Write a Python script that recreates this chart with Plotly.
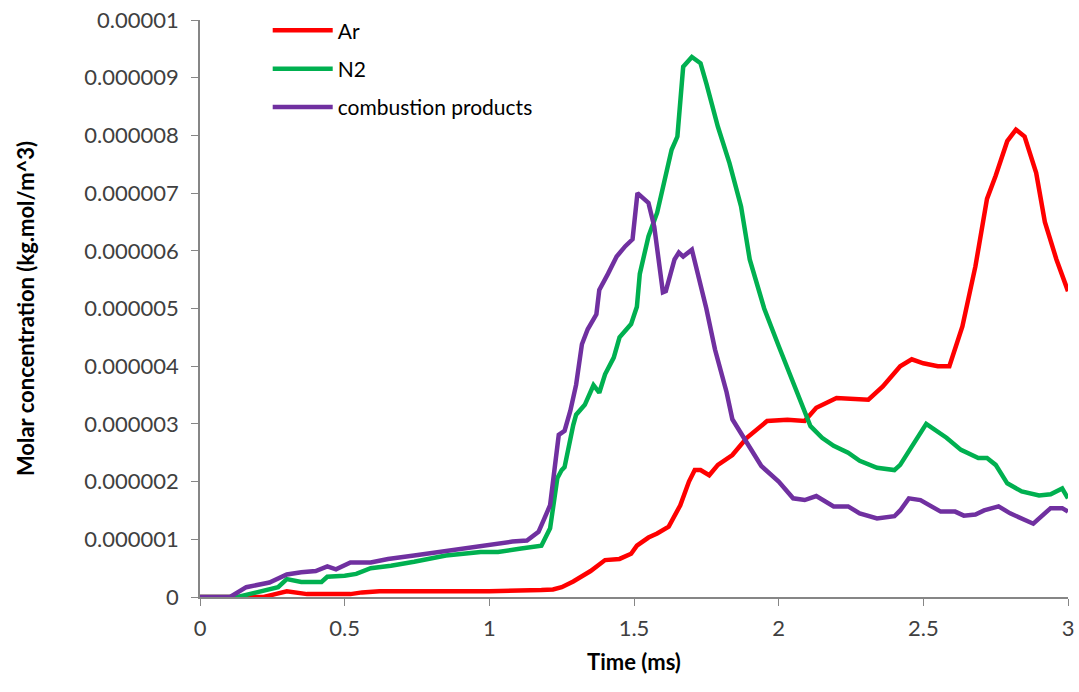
import plotly.graph_objects as go

UNIT = 1e-6  # values below are in units of 1e-6 kg.mol/m^3

# Ar
t_ar = [0, 0.22, 0.26, 0.30, 0.37, 0.52, 0.56, 0.62, 0.8, 1.0, 1.18, 1.22, 1.25, 1.29, 1.35,
        1.40, 1.45, 1.49, 1.51, 1.55, 1.58, 1.62, 1.66, 1.69, 1.71, 1.73, 1.76, 1.79, 1.84,
        1.89, 1.96, 2.03, 2.09, 2.13, 2.20, 2.31, 2.36, 2.42, 2.46, 2.50, 2.55, 2.59, 2.635,
        2.68, 2.72, 2.75, 2.79, 2.82, 2.85, 2.89, 2.92, 2.96, 3.0]
c_ar = [0, 0, 0.05, 0.1, 0.05, 0.05, 0.08, 0.1, 0.1, 0.1, 0.12, 0.13, 0.17, 0.27, 0.45,
        0.64, 0.66, 0.75, 0.89, 1.03, 1.1, 1.22, 1.59, 2.0, 2.2, 2.2, 2.11, 2.29, 2.46,
        2.76, 3.05, 3.07, 3.05, 3.28, 3.45, 3.42, 3.65, 4.0, 4.12, 4.05, 4.0, 4.0, 4.69,
        5.73, 6.9, 7.3, 7.9, 8.1, 7.98, 7.35, 6.5, 5.85, 5.3]

# N2
t_n2 = [0, 0.13, 0.17, 0.21, 0.27, 0.30, 0.35, 0.42, 0.44, 0.50, 0.54, 0.59, 0.66, 0.74,
        0.85, 0.97, 1.03, 1.11, 1.18, 1.21, 1.235, 1.25, 1.26, 1.29, 1.30, 1.33, 1.36, 1.38,
        1.40, 1.43, 1.45, 1.49, 1.51, 1.52, 1.55, 1.58, 1.60, 1.63, 1.65, 1.67, 1.70, 1.73,
        1.75, 1.79, 1.83, 1.87, 1.90, 1.95, 2.00, 2.05, 2.11, 2.15, 2.19, 2.24, 2.28, 2.34,
        2.40, 2.42, 2.45, 2.48, 2.51, 2.58, 2.63, 2.69, 2.72, 2.75, 2.79, 2.84, 2.90, 2.94,
        2.98, 3.0]
c_n2 = [0, 0, 0.05, 0.1, 0.17, 0.31, 0.26, 0.26, 0.35, 0.37, 0.40, 0.50, 0.54, 0.61,
        0.72, 0.78, 0.78, 0.84, 0.89, 1.19, 2.06, 2.2, 2.25, 2.98, 3.16, 3.33, 3.67, 3.54,
        3.86, 4.15, 4.5, 4.73, 5.03, 5.6, 6.25, 6.66, 7.1, 7.75, 7.98, 9.19, 9.36, 9.25,
        8.9, 8.15, 7.52, 6.77, 5.85, 5.0, 4.35, 3.72, 2.96, 2.76, 2.62, 2.5, 2.36, 2.24,
        2.2, 2.29, 2.53, 2.76, 3.0, 2.76, 2.55, 2.41, 2.41, 2.29, 1.97, 1.83, 1.76, 1.78,
        1.88, 1.71]

# combustion products
t_cp = [0, 0.104, 0.16, 0.21, 0.24, 0.30, 0.35, 0.40, 0.44, 0.47, 0.52, 0.59, 0.65, 0.74,
        0.85, 0.97, 1.08, 1.13, 1.17, 1.19, 1.21, 1.24, 1.26, 1.28, 1.30, 1.32, 1.34, 1.37,
        1.38, 1.41, 1.44, 1.47, 1.495, 1.512, 1.55, 1.57, 1.60, 1.61, 1.64, 1.655, 1.67, 1.70,
        1.72, 1.75, 1.78, 1.82, 1.84, 1.89, 1.94, 2.0, 2.05, 2.09, 2.13, 2.19, 2.24, 2.28,
        2.34, 2.40, 2.42, 2.45, 2.49, 2.56, 2.61, 2.64, 2.68, 2.71, 2.76, 2.80, 2.88, 2.94,
        2.98, 3.0]
c_cp = [0, 0, 0.17, 0.22, 0.25, 0.39, 0.43, 0.45, 0.53, 0.48, 0.6, 0.6, 0.66, 0.72,
        0.80, 0.89, 0.96, 0.98, 1.13, 1.36, 1.59, 2.81, 2.88, 3.23, 3.68, 4.38, 4.64, 4.9,
        5.32, 5.6, 5.9, 6.08, 6.2, 7.0, 6.83, 6.42, 5.28, 5.3, 5.85, 5.97, 5.9, 6.02,
        5.62, 5.0, 4.29, 3.55, 3.08, 2.68, 2.27, 2.0, 1.71, 1.68, 1.75, 1.57, 1.57, 1.45,
        1.36, 1.40, 1.50, 1.71, 1.68, 1.48, 1.48, 1.41, 1.43, 1.50, 1.57, 1.45, 1.27, 1.54,
        1.54, 1.48]

x_ticks = [0, 0.5, 1, 1.5, 2, 2.5, 3]
x_tick_labels = ["0", "0.5", "1", "1.5", "2", "2.5", "3"]
y_ticks = [i * UNIT for i in range(11)]
y_tick_labels = ["0", "0.000001", "0.000002", "0.000003", "0.000004", "0.000005",
                 "0.000006", "0.000007", "0.000008", "0.000009", "0.00001"]

series = [
    ("Ar", t_ar, c_ar, "#FF0000"),
    ("N2", t_n2, c_n2, "#00B050"),
    ("combustion products", t_cp, c_cp, "#7030A0"),
]

fig = go.Figure()
for name, t, c, col in series:
    fig.add_trace(go.Scatter(
        x=t, y=[v * UNIT for v in c], mode="lines", name=name,
        legendgroup=name, line=dict(color=col, width=4.5)))

axis_col = "#868686"
FONT = "Lato"
fig.update_layout(
    width=1079, height=692,
    margin=dict(l=200, r=11, t=20, b=95, autoexpand=False),
    paper_bgcolor="white", plot_bgcolor="white",
    font=dict(family=FONT, color="#404040", size=20),
    showlegend=True,
    legend=dict(x=0.078, y=1.017, xanchor="left", yanchor="top",
                bgcolor="rgba(0,0,0,0)", font=dict(size=21, color="#000000", family=FONT),
                tracegroupgap=8, itemwidth=60),
    xaxis=dict(range=[0, 3], tickvals=x_ticks, ticktext=x_tick_labels,
               showgrid=False, zeroline=False, showline=True, linecolor=axis_col,
               linewidth=1.5, ticks="outside", ticklen=7, tickcolor=axis_col,
               ticklabelstandoff=4, automargin=False, ticklabeloverflow="allow",
               tickfont=dict(size=22, color="#404040"),
               title=dict(text="<b>Time (ms)</b>", font=dict(size=22, color="#000000"),
                          standoff=14)),
    yaxis=dict(range=[0, 1e-5], tickvals=y_ticks, ticktext=y_tick_labels,
               showgrid=False, zeroline=False, showline=True, linecolor=axis_col,
               linewidth=1.5, ticks="outside", ticklen=7, tickcolor=axis_col,
               ticklabelstandoff=8, automargin=False,
               tickfont=dict(size=22, color="#404040"),
               title=dict(text="<b>Molar concentration (kg.mol/m^3)</b>",
                          font=dict(size=22, color="#000000"), standoff=44)),
)

fig.write_html("out.html")
